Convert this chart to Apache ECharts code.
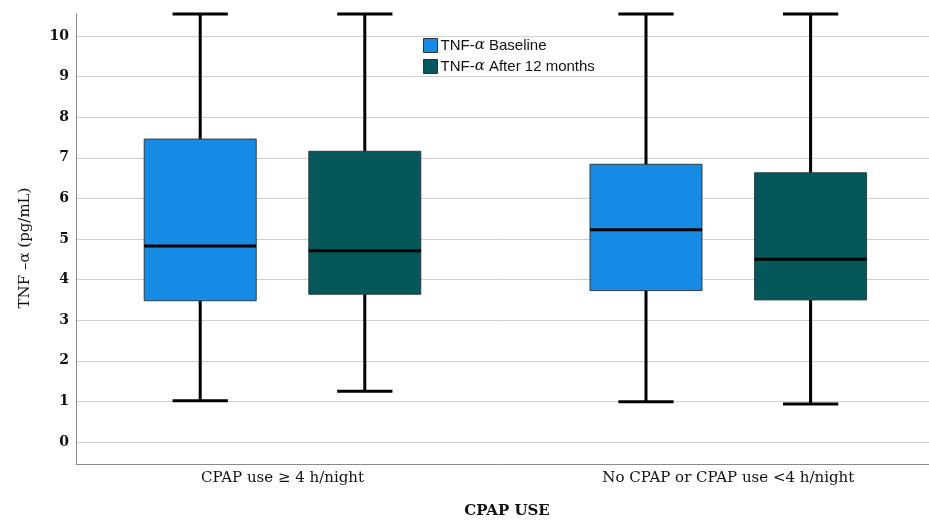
<!DOCTYPE html>
<html>
<head>
<meta charset="utf-8">
<script src="https://cdn.jsdelivr.net/npm/echarts@6/dist/echarts.min.js"></script>
<style>
html,body{margin:0;padding:0;background:#fff;}
#chart{width:929px;height:522px;}
</style>
</head>
<body>
<div id="chart"></div>
<script>
// ---- data ----
const categories = ['CPAP use \u2265 4 h/night', 'No CPAP or CPAP use <4 h/night'];
const seriesNames = ['TNF-\u03b1 Baseline', 'TNF-\u03b1 After 12 months'];
// [min, Q1, median, Q3, max] per category
const baseline = [
  [1.02, 3.48, 4.83, 7.46, 10.54],
  [0.99, 3.73, 5.23, 6.84, 10.54]
];
const after12 = [
  [1.25, 3.64, 4.71, 7.16, 10.54],
  [0.94, 3.50, 4.50, 6.63, 10.54]
];
const yTicks = [0, 1, 2, 3, 4, 5, 6, 7, 8, 9, 10];
const yTitle = 'TNF \u2013\u03b1 (pg/mL)';
const xTitle = 'CPAP USE';

// ---- styling ----
const colors = ['#168be5', '#04585a'];
const yMin = -0.54, yMax = 10.54;
const serif = '"DejaVu Serif", "Liberation Serif", serif';
const sans = '"Liberation Sans", Arial, sans-serif';

function toItems(arr) {
  return arr.map((v, i) => [i].concat(v));
}

function makeRenderer(offsetFrac, color) {
  return function (params, api) {
    const ci = api.value(0);
    const band = api.size([1, 0])[0];
    const cx = api.coord([ci, 0])[0] + offsetFrac * band;
    const pMin = api.coord([ci, api.value(1)])[1];
    const pQ1 = api.coord([ci, api.value(2)])[1];
    const pMed = api.coord([ci, api.value(3)])[1];
    const pQ3 = api.coord([ci, api.value(4)])[1];
    const pMax = api.coord([ci, api.value(5)])[1];
    const bw = band * 0.2512;
    const capW = band * 0.124;
    const lineStyle = { stroke: '#000', lineWidth: 3 };
    return {
      type: 'group',
      children: [
        { type: 'line', shape: { x1: cx, y1: pMax, x2: cx, y2: pMin }, style: lineStyle },
        { type: 'line', shape: { x1: cx - capW / 2, y1: pMax, x2: cx + capW / 2, y2: pMax }, style: lineStyle },
        { type: 'line', shape: { x1: cx - capW / 2, y1: pMin, x2: cx + capW / 2, y2: pMin }, style: lineStyle },
        { type: 'rect', shape: { x: cx - bw / 2, y: pQ3, width: bw, height: pQ1 - pQ3 },
          style: { fill: color, stroke: '#2c3d46', lineWidth: 1 } },
        { type: 'line', shape: { x1: cx - bw / 2, y1: pMed, x2: cx + bw / 2, y2: pMed }, style: lineStyle }
      ]
    };
  };
}

const chart = echarts.init(document.getElementById('chart'), null, { renderer: 'canvas' });
chart.setOption({
  animation: false,
  backgroundColor: '#fff',
  legend: {
    orient: 'vertical',
    left: 423,
    top: 38,
    padding: 0,
    itemWidth: 14,
    itemHeight: 14,
    itemGap: 6,
    icon: 'rect',
    data: [
      { name: seriesNames[0], itemStyle: { color: colors[0], borderColor: '#333', borderWidth: 1 } },
      { name: seriesNames[1], itemStyle: { color: colors[1], borderColor: '#333', borderWidth: 1 } }
    ],
    formatter: function (name) {
      return '{t|' + name.replace('\u03b1', '}{i|\u03b1}{t|') + '}';
    },
    textStyle: {
      fontFamily: sans, fontSize: 15, color: '#111', padding: [0, 0, 0, -2],
      rich: {
        t: { fontFamily: sans, fontSize: 15, color: '#111' },
        i: { fontFamily: '"DejaVu Serif", serif', fontSize: 15, fontStyle: 'italic', color: '#111' }
      }
    }
  },
  grid: [
    // gridlines + tick labels
    { left: 76, right: 0, top: 36, height: 406, outerBoundsMode: 'none' },
    // frame (axis lines, titles)
    { left: 76, right: 0, top: 14, height: 450, outerBoundsMode: 'none' },
    // data grid (category centres)
    { left: 59.6, right: -22.2, top: 14, height: 450, outerBoundsMode: 'none' }
  ],
  xAxis: [
    { gridIndex: 0, type: 'value', show: false },
    {
      gridIndex: 1, type: 'category', data: categories,
      axisLine: { show: true, onZero: false, lineStyle: { color: '#8a8a8a', width: 1 } },
      axisTick: { show: false }, axisLabel: { show: false },
      name: xTitle, nameLocation: 'middle', nameGap: 40,
      nameTextStyle: { fontFamily: serif, fontSize: 15, fontWeight: 'bold', color: '#111', padding: [0, 0, 0, 9] }
    },
    {
      gridIndex: 2, type: 'category', data: categories,
      axisLine: { show: false, onZero: false }, axisTick: { show: false },
      axisLabel: { fontFamily: serif, fontSize: 15, color: '#111', margin: 7 }
    }
  ],
  yAxis: [
    {
      gridIndex: 0, type: 'value', min: yTicks[0], max: yTicks[yTicks.length - 1], interval: 1,
      axisLine: { show: false }, axisTick: { show: false },
      axisLabel: { fontFamily: serif, fontSize: 14, fontWeight: 'bold', color: '#111', margin: 7 },
      splitLine: { show: true, lineStyle: { color: '#cfcfcf', width: 1 } }
    },
    {
      gridIndex: 1, type: 'value', min: yMin, max: yMax,
      axisLine: { show: true, onZero: false, lineStyle: { color: '#8a8a8a', width: 1 } },
      axisTick: { show: false }, axisLabel: { show: false }, splitLine: { show: false },
      name: yTitle, nameLocation: 'middle', nameGap: 43,
      nameTextStyle: { fontFamily: serif, fontSize: 15, color: '#111', padding: [0, 18, 0, 0] }
    },
    {
      gridIndex: 2, type: 'value', min: yMin, max: yMax, show: false
    }
  ],
  series: [
    {
      name: seriesNames[0], type: 'custom', xAxisIndex: 2, yAxisIndex: 2,
      itemStyle: { color: colors[0] },
      renderItem: makeRenderer(-0.1846, colors[0]),
      encode: { x: 0, y: [1, 2, 3, 4, 5] },
      data: toItems(baseline), z: 3
    },
    {
      name: seriesNames[1], type: 'custom', xAxisIndex: 2, yAxisIndex: 2,
      itemStyle: { color: colors[1] },
      renderItem: makeRenderer(0.1846, colors[1]),
      encode: { x: 0, y: [1, 2, 3, 4, 5] },
      data: toItems(after12), z: 3
    }
  ]
});
</script>
</body>
</html>
